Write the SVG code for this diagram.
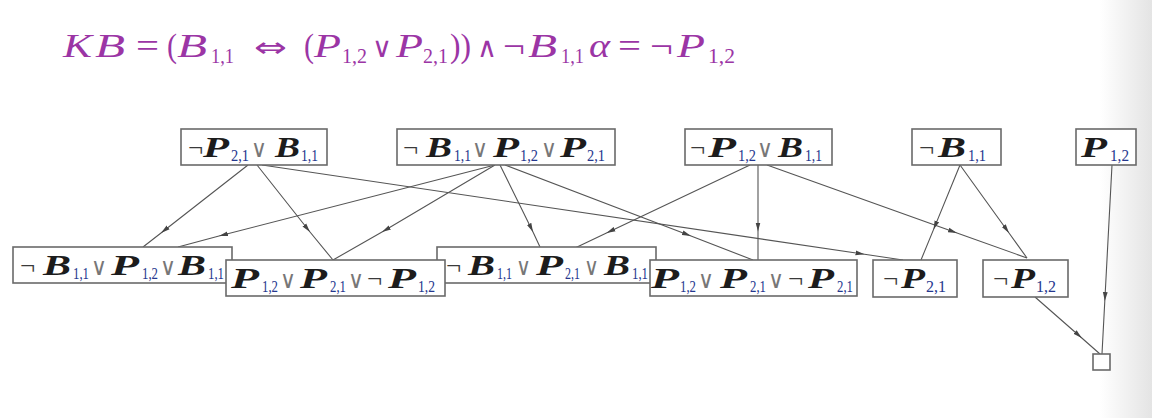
<svg xmlns="http://www.w3.org/2000/svg" width="1152" height="418" viewBox="0 0 1152 418">
<defs>
<linearGradient id="edge" x1="0" y1="0" x2="1" y2="0">
<stop offset="0" stop-color="#ffffff"/>
<stop offset="1" stop-color="#e4e4e4"/>
</linearGradient>
<marker id="ah" markerUnits="userSpaceOnUse" markerWidth="10" markerHeight="6" refX="9" refY="3" orient="auto">
<path d="M0,0.6 L9,3 L0,5.4 z" fill="#444"/>
</marker>
<style>
.box{fill:#fff;stroke:#6a6a6a;stroke-width:1.6}
.e{fill:none;stroke:#555;stroke-width:1.1;marker-mid:url(#ah)}
.v{font-family:"Liberation Serif",serif;font-weight:bold;font-style:italic;font-size:29px;fill:#1c1c1c}
.n{font-family:"Liberation Serif","DejaVu Serif",serif;font-size:27px;fill:#3a3a3a}
.o{font-family:"DejaVu Sans","Liberation Sans",sans-serif;font-size:24px;fill:#777}
.s{font-family:"Liberation Serif",serif;font-size:16px;fill:#25378e}
.t{font-family:"Liberation Serif",serif;font-style:italic;font-size:34px;fill:#9b35a5}
.tu{font-family:"Liberation Serif","DejaVu Sans",serif;font-size:33px;fill:#9b35a5}
.tl{font-family:"DejaVu Sans",sans-serif;font-size:28px;fill:#9b35a5}
.ts{font-family:"Liberation Serif",serif;font-size:22px;fill:#9b35a5}
</style>
</defs>
<rect x="0" y="0" width="1152" height="418" fill="#fff"/>
<rect x="1100" y="0" width="52" height="418" fill="url(#edge)"/>

<g id="title">
<text y="57"><tspan class="t" x="63" textLength="29" lengthAdjust="spacingAndGlyphs">K</tspan><tspan class="t" x="95" textLength="30" lengthAdjust="spacingAndGlyphs">B</tspan><tspan class="tu" x="136" textLength="23" lengthAdjust="spacingAndGlyphs">=</tspan><tspan class="tu" x="167" textLength="10" lengthAdjust="spacingAndGlyphs">(</tspan><tspan class="t" x="177" textLength="30" lengthAdjust="spacingAndGlyphs">B</tspan><tspan class="ts" x="211" dy="6" textLength="23" lengthAdjust="spacingAndGlyphs">1,1</tspan><tspan class="tl" x="254" dy="-6" textLength="33" lengthAdjust="spacingAndGlyphs">⇔</tspan><tspan class="tu" x="304" textLength="10" lengthAdjust="spacingAndGlyphs">(</tspan><tspan class="t" x="314" textLength="27" lengthAdjust="spacingAndGlyphs">P</tspan><tspan class="ts" x="342" dy="6" textLength="25" lengthAdjust="spacingAndGlyphs">1,2</tspan><tspan class="tl" x="372" dy="-6" textLength="20" lengthAdjust="spacingAndGlyphs">∨</tspan><tspan class="t" x="396" textLength="27" lengthAdjust="spacingAndGlyphs">P</tspan><tspan class="ts" x="423" dy="6" textLength="25" lengthAdjust="spacingAndGlyphs">2,1</tspan><tspan class="tu" x="450" dy="-6" textLength="21" lengthAdjust="spacingAndGlyphs">))</tspan><tspan class="tl" x="477" textLength="20" lengthAdjust="spacingAndGlyphs">∧</tspan><tspan class="tu" x="503" textLength="22" lengthAdjust="spacingAndGlyphs">¬</tspan><tspan class="t" x="528" textLength="29" lengthAdjust="spacingAndGlyphs">B</tspan><tspan class="ts" x="561" dy="6" textLength="23" lengthAdjust="spacingAndGlyphs">1,1</tspan><tspan class="t" x="589" dy="-6" textLength="21" lengthAdjust="spacingAndGlyphs">α</tspan><tspan class="tu" x="618" textLength="23" lengthAdjust="spacingAndGlyphs">=</tspan><tspan class="tu" x="650" textLength="23" lengthAdjust="spacingAndGlyphs">¬</tspan><tspan class="t" x="677" textLength="28" lengthAdjust="spacingAndGlyphs">P</tspan><tspan class="ts" x="708" dy="6" textLength="27" lengthAdjust="spacingAndGlyphs">1,2</tspan></text>
</g>

<g id="connectors">
<path class="e" d="M248,165 L161,233 L143,247"/>
<path class="e" d="M257,165 L310,232 L333,260"/>
<path class="e" d="M262,165 L864.5,254.3 L903,260"/>
<path class="e" d="M495,165 L219,236 L178,247"/>
<path class="e" d="M495,165 L382,232 L333,260"/>
<path class="e" d="M500,165 L533,232 L540,247"/>
<path class="e" d="M505,165 L691,236 L753,260"/>
<path class="e" d="M750,165 L606.5,233 L575,248"/>
<path class="e" d="M758,165 L758,231.5 L758,260"/>
<path class="e" d="M767,165 L957,233 L1027,258"/>
<path class="e" d="M960,165 L933.5,229.6 L921,260"/>
<path class="e" d="M960,165 L1009,233 L1027,258"/>
<path class="e" d="M1112,165 L1104.8,301 L1102,354"/>
<path class="e" d="M1035,297 L1081.8,338 L1100,354"/>
</g>

<g id="n1">
<rect class="box" x="181" y="129" width="146" height="36"/>
<text y="157"><tspan class="n" x="188">¬</tspan><tspan class="v" x="203" textLength="26" lengthAdjust="spacingAndGlyphs">P</tspan><tspan class="s" x="231" dy="4" textLength="18" lengthAdjust="spacingAndGlyphs">2,1</tspan><tspan class="o" x="251" dy="-4" textLength="16" lengthAdjust="spacingAndGlyphs">∨</tspan><tspan class="v" x="275" textLength="25" lengthAdjust="spacingAndGlyphs">B</tspan><tspan class="s" x="301" dy="4" textLength="17" lengthAdjust="spacingAndGlyphs">1,1</tspan></text>
</g>
<g id="n2">
<rect class="box" x="397" y="129" width="218" height="36"/>
<text y="157"><tspan class="n" x="403">¬</tspan><tspan class="v" x="426" textLength="26" lengthAdjust="spacingAndGlyphs">B</tspan><tspan class="s" x="454" dy="4" textLength="17" lengthAdjust="spacingAndGlyphs">1,1</tspan><tspan class="o" x="472" dy="-4" textLength="16" lengthAdjust="spacingAndGlyphs">∨</tspan><tspan class="v" x="493" textLength="26" lengthAdjust="spacingAndGlyphs">P</tspan><tspan class="s" x="520" dy="4" textLength="18" lengthAdjust="spacingAndGlyphs">1,2</tspan><tspan class="o" x="541" dy="-4" textLength="16" lengthAdjust="spacingAndGlyphs">∨</tspan><tspan class="v" x="560" textLength="26" lengthAdjust="spacingAndGlyphs">P</tspan><tspan class="s" x="587" dy="4" textLength="18" lengthAdjust="spacingAndGlyphs">2,1</tspan></text>
</g>
<g id="n3">
<rect class="box" x="685" y="129" width="147" height="36"/>
<text y="157"><tspan class="n" x="690">¬</tspan><tspan class="v" x="708" textLength="28" lengthAdjust="spacingAndGlyphs">P</tspan><tspan class="s" x="738" dy="4" textLength="18" lengthAdjust="spacingAndGlyphs">1,2</tspan><tspan class="o" x="757" dy="-4" textLength="16" lengthAdjust="spacingAndGlyphs">∨</tspan><tspan class="v" x="778" textLength="25" lengthAdjust="spacingAndGlyphs">B</tspan><tspan class="s" x="805" dy="4" textLength="17" lengthAdjust="spacingAndGlyphs">1,1</tspan></text>
</g>
<g id="n4">
<rect class="box" x="912" y="129" width="89" height="36"/>
<text y="157"><tspan class="n" x="919">¬</tspan><tspan class="v" x="938" textLength="28" lengthAdjust="spacingAndGlyphs">B</tspan><tspan class="s" x="968" dy="4" textLength="18" lengthAdjust="spacingAndGlyphs">1,1</tspan></text>
</g>
<g id="n5">
<rect class="box" x="1076" y="129" width="60" height="36"/>
<text y="157"><tspan class="v" x="1081" textLength="26" lengthAdjust="spacingAndGlyphs">P</tspan><tspan class="s" x="1110" dy="4" textLength="19" lengthAdjust="spacingAndGlyphs">1,2</tspan></text>
</g>

<g id="n6">
<rect class="box" x="13" y="247" width="219" height="36"/>
<text y="275"><tspan class="n" x="20">¬</tspan><tspan class="v" x="43" textLength="28" lengthAdjust="spacingAndGlyphs">B</tspan><tspan class="s" x="73" dy="4" textLength="16" lengthAdjust="spacingAndGlyphs">1,1</tspan><tspan class="o" x="91" dy="-4" textLength="16" lengthAdjust="spacingAndGlyphs">∨</tspan><tspan class="v" x="111" textLength="28" lengthAdjust="spacingAndGlyphs">P</tspan><tspan class="s" x="142" dy="4" textLength="16" lengthAdjust="spacingAndGlyphs">1,2</tspan><tspan class="o" x="160" dy="-4" textLength="16" lengthAdjust="spacingAndGlyphs">∨</tspan><tspan class="v" x="178" textLength="28" lengthAdjust="spacingAndGlyphs">B</tspan><tspan class="s" x="208" dy="4" textLength="16" lengthAdjust="spacingAndGlyphs">1,1</tspan></text>
</g>
<g id="n8">
<rect class="box" x="437" y="247" width="219" height="36"/>
<text y="275"><tspan class="n" x="446">¬</tspan><tspan class="v" x="468" textLength="27" lengthAdjust="spacingAndGlyphs">B</tspan><tspan class="s" x="497" dy="4" textLength="15" lengthAdjust="spacingAndGlyphs">1,1</tspan><tspan class="o" x="516" dy="-4" textLength="15" lengthAdjust="spacingAndGlyphs">∨</tspan><tspan class="v" x="536" textLength="27" lengthAdjust="spacingAndGlyphs">P</tspan><tspan class="s" x="565" dy="4" textLength="15" lengthAdjust="spacingAndGlyphs">2,1</tspan><tspan class="o" x="584" dy="-4" textLength="15" lengthAdjust="spacingAndGlyphs">∨</tspan><tspan class="v" x="604" textLength="26" lengthAdjust="spacingAndGlyphs">B</tspan><tspan class="s" x="632" dy="4" textLength="16" lengthAdjust="spacingAndGlyphs">1,1</tspan></text>
</g>
<g id="n7">
<rect class="box" x="226" y="260" width="219" height="36"/>
<text y="288"><tspan class="v" x="231" textLength="28" lengthAdjust="spacingAndGlyphs">P</tspan><tspan class="s" x="262" dy="4" textLength="16" lengthAdjust="spacingAndGlyphs">1,2</tspan><tspan class="o" x="280" dy="-4" textLength="16" lengthAdjust="spacingAndGlyphs">∨</tspan><tspan class="v" x="300" textLength="27" lengthAdjust="spacingAndGlyphs">P</tspan><tspan class="s" x="330" dy="4" textLength="16" lengthAdjust="spacingAndGlyphs">2,1</tspan><tspan class="o" x="348" dy="-4" textLength="16" lengthAdjust="spacingAndGlyphs">∨</tspan><tspan class="n" x="367">¬</tspan><tspan class="v" x="388" textLength="28" lengthAdjust="spacingAndGlyphs">P</tspan><tspan class="s" x="418" dy="4" textLength="17" lengthAdjust="spacingAndGlyphs">1,2</tspan></text>
</g>
<g id="n9">
<rect class="box" x="650" y="260" width="207" height="36"/>
<text y="288"><tspan class="v" x="651" textLength="28" lengthAdjust="spacingAndGlyphs">P</tspan><tspan class="s" x="680" dy="4" textLength="16" lengthAdjust="spacingAndGlyphs">1,2</tspan><tspan class="o" x="698" dy="-4" textLength="16" lengthAdjust="spacingAndGlyphs">∨</tspan><tspan class="v" x="720" textLength="27" lengthAdjust="spacingAndGlyphs">P</tspan><tspan class="s" x="750" dy="4" textLength="16" lengthAdjust="spacingAndGlyphs">2,1</tspan><tspan class="o" x="768" dy="-4" textLength="16" lengthAdjust="spacingAndGlyphs">∨</tspan><tspan class="n" x="788">¬</tspan><tspan class="v" x="808" textLength="26" lengthAdjust="spacingAndGlyphs">P</tspan><tspan class="s" x="837" dy="4" textLength="16" lengthAdjust="spacingAndGlyphs">2,1</tspan></text>
</g>
<g id="n10">
<rect class="box" x="873" y="260" width="84" height="37"/>
<text y="288"><tspan class="n" x="883">¬</tspan><tspan class="v" x="901" textLength="24" lengthAdjust="spacingAndGlyphs">P</tspan><tspan class="s" x="926" dy="4" textLength="20" lengthAdjust="spacingAndGlyphs">2,1</tspan></text>
</g>
<g id="n11">
<rect class="box" x="983" y="260" width="85" height="37"/>
<text y="288"><tspan class="n" x="993">¬</tspan><tspan class="v" x="1011" textLength="24" lengthAdjust="spacingAndGlyphs">P</tspan><tspan class="s" x="1036" dy="4" textLength="20" lengthAdjust="spacingAndGlyphs">1,2</tspan></text>
</g>
<g id="n12">
<rect class="box" x="1093" y="354" width="17" height="16"/>
</g>
</svg>
